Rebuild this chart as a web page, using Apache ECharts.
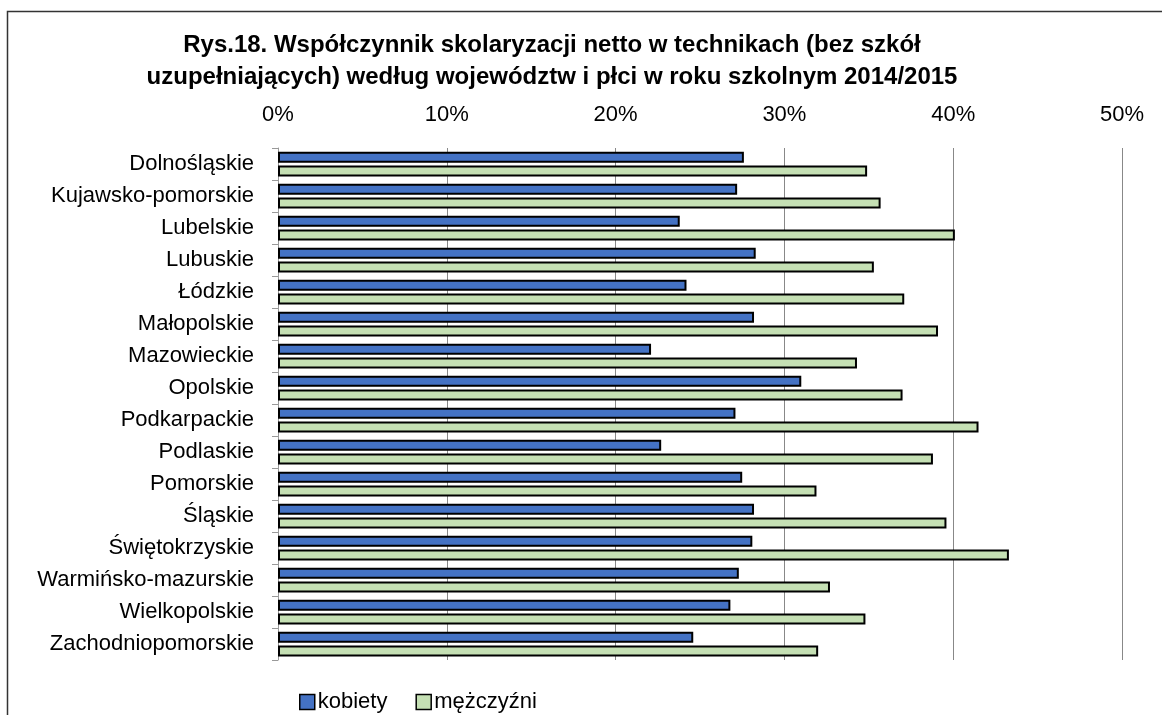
<!DOCTYPE html>
<html>
<head>
<meta charset="utf-8">
<script src="https://cdn.jsdelivr.net/npm/echarts@6/dist/echarts.min.js"></script>
<style>
	html, body { margin: 0; padding: 0; background: #fff; }
	#chart { width: 1162px; height: 715px; }
</style>
</head>
<body>
<div id="chart"></div>
<script>
let regions = [
	"Dolnośląskie", "Kujawsko-pomorskie", "Lubelskie", "Lubuskie", "Łódzkie",
	"Małopolskie", "Mazowieckie", "Opolskie", "Podkarpackie", "Podlaskie",
	"Pomorskie", "Śląskie", "Świętokrzyskie", "Warmińsko-mazurskie",
	"Wielkopolskie", "Zachodniopomorskie",
];
let kobiety = [27.6, 27.2, 23.8, 28.3, 24.2, 28.2, 22.1, 31.0, 27.1, 22.7, 27.5, 28.2, 28.1, 27.3, 26.8, 24.6];
let mezczyzni = [34.9, 35.7, 40.1, 35.3, 37.1, 39.1, 34.3, 37.0, 41.5, 38.8, 31.9, 39.6, 43.3, 32.7, 34.8, 32.0];
let seriesNames = ["kobiety", "mężczyźni"];

let font = "'Liberation Sans', Arial, sans-serif";
let myChart = echarts.init(document.getElementById("chart"));

let option = {
	animation: false,
	color: ["#4472C4", "#C5E0B4"],
	textStyle: { fontFamily: font },
	title: {
		text: "Rys.18. Współczynnik skolaryzacji netto w technikach (bez szkół\nuzupełniających) według województw i płci w roku szkolnym 2014/2015",
		left: 547,
		top: 24,
		textAlign: "center",
		textStyle: {
			fontFamily: font,
			fontSize: 24,
			fontWeight: "bold",
			color: "#000",
			lineHeight: 32,
		},
	},
	graphic: [
		{
			type: "rect",
			shape: { x: 7.5, y: 11.5, width: 1200, height: 800 },
			style: { fill: "none", stroke: "#333", lineWidth: 1.5 },
			silent: true,
		},
	],
	legend: {
		left: 294,
		top: 686,
		itemWidth: 15,
		itemHeight: 15,
		itemGap: 28,
		icon: "rect",
		itemStyle: { borderColor: "#000", borderWidth: 1.5 },
		textStyle: { fontFamily: font, fontSize: 22, color: "#000", padding: [0, 0, 0, -2] },
		data: seriesNames,
	},
	grid: {
		left: 278,
		right: 40,
		top: 148,
		bottom: 55,
	},
	xAxis: {
		type: "value",
		position: "top",
		min: 0,
		max: 50,
		interval: 10,
		axisLine: { show: false },
		axisTick: { show: false },
		axisLabel: {
			formatter: "{value}%",
			fontFamily: font,
			fontSize: 22,
			color: "#000",
			margin: 22,
		},
		splitLine: { lineStyle: { color: "#888", width: 1 } },
	},
	yAxis: {
		type: "category",
		inverse: true,
		data: regions,
		axisLine: { show: true, lineStyle: { color: "#999", width: 1 } },
		axisTick: { show: true, length: 6, lineStyle: { color: "#999" } },
		axisLabel: {
			fontFamily: font,
			fontSize: 22,
			color: "#000",
			margin: 24,
			interval: 0,
		},
	},
	series: [
		{
			name: seriesNames[0],
			type: "bar",
			barWidth: 11,
			barGap: "25%",
			itemStyle: { borderColor: "#000", borderWidth: 2 },
			data: kobiety,
		},
		{
			name: seriesNames[1],
			type: "bar",
			barWidth: 11,
			barGap: "25%",
			itemStyle: { borderColor: "#000", borderWidth: 2 },
			data: mezczyzni,
		},
	],
};

myChart.setOption(option);
</script>
</body>
</html>
